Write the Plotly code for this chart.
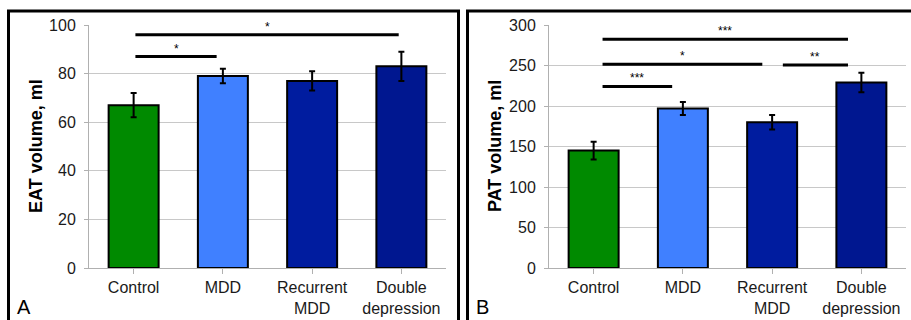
import plotly.graph_objects as go

categories = ["Control", "MDD", "Recurrent<br>MDD", "Double<br>depression"]
colors = ["#008a00", "#4080ff", "#001c9f", "#001790"]

eat_mean = [67, 79, 77, 83]
eat_err = [5, 3, 4, 6]
pat_mean = [145, 197, 180, 229]
pat_err = [11, 8, 9, 12]

# significance brackets: start, end (category index), y of line, label
eat_sig_x0 = [0.02, 0.02]
eat_sig_x1 = [0.93, 2.97]
eat_sig_y = [87, 96]
eat_sig_lbl = ["*", "*"]

pat_sig_x0 = [0.1, 0.1, 2.12, 0.1]
pat_sig_x1 = [0.88, 1.89, 2.85, 2.85]
pat_sig_y = [224, 251.5, 250.5, 282.5]
pat_sig_lbl = ["***", "*", "**", "***"]

W, H = 911, 320
FONT = "Liberation Sans, Arial, sans-serif"

fig = go.Figure()


def add_panel(xa, ya, means, errs, sx0, sx1, sy, slbl, star_off):
    fig.add_trace(go.Bar(
        x=list(range(4)), y=means, xaxis=xa, yaxis=ya,
        marker=dict(color=colors, line=dict(color="black", width=2)),
        width=0.56,
        error_y=dict(type="data", array=errs, visible=True, color="black",
                     thickness=2, width=3),
        showlegend=False, hoverinfo="skip"))
    for a, b, y, t in zip(sx0, sx1, sy, slbl):
        fig.add_trace(go.Scatter(
            x=[a, b], y=[y, y], xaxis=xa, yaxis=ya, mode="lines",
            line=dict(color="black", width=3), showlegend=False,
            hoverinfo="skip"))
        fig.add_annotation(x=(a + b) / 2, y=y + star_off, xref=xa, yref=ya,
                           text=t, showarrow=False, yanchor="middle",
                           font=dict(family=FONT, size=12, color="black"))


add_panel("x", "y", eat_mean, eat_err, eat_sig_x0, eat_sig_x1, eat_sig_y,
          eat_sig_lbl, 3.0)
add_panel("x2", "y2", pat_mean, pat_err, pat_sig_x0, pat_sig_x1, pat_sig_y,
          pat_sig_lbl, 10.0)

ydom = [1 - 268 / H, 1 - 25 / H]
xcommon = dict(
    tickmode="array", tickvals=list(range(4)), ticktext=categories,
    range=[-0.5, 3.5], showgrid=False, showline=True, linecolor="#b0b0b0",
    linewidth=1, ticks="outside", tickson="boundaries", ticklen=5,
    tickcolor="#b0b0b0", tickfont=dict(family=FONT, size=16, color="#1a1a1a"),
    zeroline=False, fixedrange=True, automargin=False)
ycommon = dict(
    showgrid=True, gridcolor="#c8c8c8", gridwidth=1, showline=True,
    linecolor="#b0b0b0", ticks="outside", ticklen=4, tickcolor="#b0b0b0",
    ticklabelstandoff=5,
    tickfont=dict(family=FONT, size=16, color="#1a1a1a"), zeroline=False,
    fixedrange=True, automargin=False)

fig.update_layout(
    template="none",
    width=W, height=H, margin=dict(l=0, r=0, t=0, b=0, pad=0),
    paper_bgcolor="white", plot_bgcolor="white",
    xaxis=dict(domain=[89 / W, 446 / W], anchor="y", **xcommon),
    yaxis=dict(domain=ydom, anchor="x", range=[0, 100], dtick=20, **ycommon),
    xaxis2=dict(domain=[549 / W, 906 / W], anchor="y2", **xcommon),
    yaxis2=dict(domain=ydom, anchor="x2", range=[0, 300], dtick=50,
                **ycommon),
)

# axis titles
for txt, px in [("<b>EAT volume, ml</b>", 36), ("<b>PAT volume, ml</b>", 495)]:
    fig.add_annotation(x=px / W, y=1 - 146 / H, xref="paper", yref="paper",
                       text=txt, showarrow=False, textangle=-90,
                       xanchor="center", yanchor="middle",
                       font=dict(family=FONT, size=18, color="black"))

# panel frames
fig.add_shape(type="rect", xref="paper", yref="paper",
              x0=8.5 / W, x1=458.5 / W, y0=-0.05, y1=1 - 11 / H,
              line=dict(color="black", width=3))
fig.add_shape(type="rect", xref="paper", yref="paper",
              x0=467.5 / W, x1=1.05, y0=-0.05, y1=1 - 11 / H,
              line=dict(color="black", width=3))

for lbl, px in [("A", 15), ("B", 474)]:
    fig.add_annotation(x=px / W, y=0, xref="paper", yref="paper",
                       text=lbl, showarrow=False, xanchor="left",
                       yanchor="bottom",
                       font=dict(family=FONT, size=20, color="black"))

fig.write_html(
    "out.html",
    config={"displayModeBar": False},
    post_script="document.body.style.margin='0';"
                "document.body.style.overflow='hidden';")
